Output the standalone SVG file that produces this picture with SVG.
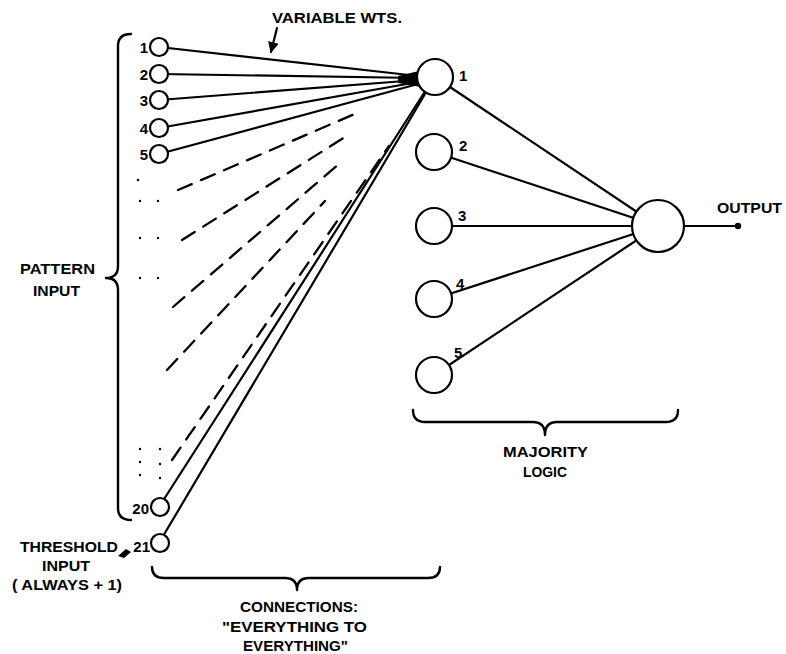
<svg xmlns="http://www.w3.org/2000/svg" width="786" height="654" viewBox="0 0 786 654">
<style>
.bg{fill:#fff}
.ln{stroke:#000;stroke-width:2.2;fill:none;stroke-linecap:round}
.dash{stroke:#000;stroke-width:2.3;fill:none;stroke-dasharray:15 10;stroke-linecap:round}
.brace{stroke:#000;stroke-width:2.4;fill:none;stroke-linecap:round;stroke-linejoin:round}
.nd{fill:#fff;stroke:#000;stroke-width:2.2}
.t{font-family:"Liberation Sans",Arial,sans-serif;font-weight:bold;font-size:15px;fill:#000}
.n{font-family:"Liberation Sans",Arial,sans-serif;font-weight:bold;font-size:15px;fill:#000;text-anchor:end}
.hn{font-family:"Liberation Sans",Arial,sans-serif;font-weight:bold;font-size:15px;fill:#000}
.dot{fill:#000}
</style>
<defs>
<marker id="ah" viewBox="0 0 10 10" refX="9" refY="5" markerWidth="5" markerHeight="5" orient="auto"><path d="M0,0 L10,5 L0,10 z" fill="#000"/></marker>
</defs>
<rect class="bg" width="786" height="654"/>

<g id="connectors">
  <line class="ln" x1="159" y1="47" x2="418" y2="76"/>
  <line class="ln" x1="159" y1="74" x2="418" y2="78"/>
  <line class="ln" x1="159" y1="100" x2="418" y2="80"/>
  <line class="ln" x1="159" y1="128" x2="418" y2="82"/>
  <line class="ln" x1="159" y1="154" x2="418" y2="84"/>
  <polygon points="398,76 419,71 421,87 398,83" fill="#000"/>
  <line class="dash" x1="178" y1="190" x2="357" y2="113"/>
  <line class="dash" x1="182" y1="240" x2="345" y2="137"/>
  <line class="dash" x1="173" y1="307" x2="340" y2="163"/>
  <line class="dash" x1="167" y1="370" x2="325" y2="201"/>
  <line class="dash" x1="172" y1="460" x2="389" y2="146"/>
  <line class="ln" x1="159" y1="507" x2="424" y2="93"/>
  <line class="ln" x1="159" y1="543" x2="425" y2="94"/>
  <line class="ln" x1="435" y1="77" x2="658" y2="226"/>
  <line class="ln" x1="434" y1="152" x2="658" y2="226"/>
  <line class="ln" x1="434" y1="226" x2="658" y2="226"/>
  <line class="ln" x1="434" y1="299" x2="658" y2="226"/>
  <line class="ln" x1="434" y1="375" x2="658" y2="226"/>
  <line class="ln" x1="684" y1="226" x2="737" y2="226"/>
  <circle class="dot" cx="738" cy="226" r="3.2"/>
  <line class="ln" x1="277" y1="28" x2="271" y2="52" marker-end="url(#ah)"/>
  <polygon points="118,556 126,549 131,552 124,558" fill="#000"/>
</g>

<g id="braces">
  <path class="brace" d="M131,34 Q118,34 118,46 L118,266 Q118,278 106,278 Q118,278 118,290 L118,508 Q118,520 131,520"/>
  <path class="brace" d="M152,567 Q152,578 164,578 L285,578 Q297,578 297,590 Q297,578 309,578 L428,578 Q440,578 440,567"/>
  <path class="brace" d="M413,410 Q413,422 425,422 L533,422 Q545,422 545,435 Q545,422 557,422 L666,422 Q678,422 678,410"/>
</g>

<g id="dots">
  <circle class="dot" cx="138" cy="180" r="1.2"/>
  <circle class="dot" cx="140" cy="201" r="1.2"/><circle class="dot" cx="158" cy="201" r="1.2"/>
  <circle class="dot" cx="140" cy="238" r="1.2"/><circle class="dot" cx="158" cy="238" r="1.2"/>
  <circle class="dot" cx="140" cy="278" r="1.2"/><circle class="dot" cx="158" cy="278" r="1.2"/>
  <circle class="dot" cx="140" cy="449" r="1.2"/><circle class="dot" cx="160" cy="449" r="1.2"/>
  <circle class="dot" cx="140" cy="462" r="1.2"/><circle class="dot" cx="160" cy="464" r="1.2"/>
  <circle class="dot" cx="140" cy="475" r="1.2"/><circle class="dot" cx="160" cy="478" r="1.2"/>
</g>

<g id="in1"><circle class="nd" cx="159" cy="47" r="9"/><text class="n" x="148" y="53">1</text></g>
<g id="in2"><circle class="nd" cx="159" cy="74" r="9"/><text class="n" x="148" y="80">2</text></g>
<g id="in3"><circle class="nd" cx="159" cy="100" r="9"/><text class="n" x="148" y="106">3</text></g>
<g id="in4"><circle class="nd" cx="159" cy="128" r="9"/><text class="n" x="148" y="134">4</text></g>
<g id="in5"><circle class="nd" cx="159" cy="154" r="9"/><text class="n" x="148" y="160">5</text></g>
<g id="in20"><circle class="nd" cx="160" cy="507" r="9"/><text class="n" x="149" y="514">20</text></g>
<g id="in21"><circle class="nd" cx="160" cy="543" r="9"/><text class="n" x="150" y="552">21</text></g>

<g id="h1"><circle class="nd" cx="435" cy="77" r="18"/><text class="hn" x="459" y="81">1</text></g>
<g id="h2"><circle class="nd" cx="434" cy="152" r="18"/><text class="hn" x="459" y="151">2</text></g>
<g id="h3"><circle class="nd" cx="434" cy="226" r="18"/><text class="hn" x="458" y="221">3</text></g>
<g id="h4"><circle class="nd" cx="434" cy="299" r="18"/><text class="hn" x="456" y="289">4</text></g>
<g id="h5"><circle class="nd" cx="434" cy="375" r="18"/><text class="hn" x="454" y="358">5</text></g>
<g id="out"><circle class="nd" cx="658" cy="226" r="26"/></g>

<g id="labels">
  <text class="t" x="272" y="23" textLength="130" lengthAdjust="spacingAndGlyphs">VARIABLE WTS.</text>
  <text class="t" x="20" y="274" textLength="75" lengthAdjust="spacingAndGlyphs">PATTERN</text>
  <text class="t" x="33" y="296" textLength="47" lengthAdjust="spacingAndGlyphs">INPUT</text>
  <text class="t" x="20" y="552" textLength="98" lengthAdjust="spacingAndGlyphs">THRESHOLD</text>
  <text class="t" x="42" y="571" textLength="48" lengthAdjust="spacingAndGlyphs">INPUT</text>
  <text class="t" x="12" y="590" textLength="110" lengthAdjust="spacingAndGlyphs">( ALWAYS + 1)</text>
  <text class="t" x="240" y="612" textLength="118" lengthAdjust="spacingAndGlyphs">CONNECTIONS:</text>
  <text class="t" x="222" y="632" textLength="145" lengthAdjust="spacingAndGlyphs">"EVERYTHING  TO</text>
  <text class="t" x="243" y="651" textLength="105" lengthAdjust="spacingAndGlyphs">EVERYTHING"</text>
  <text class="t" x="717" y="213" textLength="65" lengthAdjust="spacingAndGlyphs">OUTPUT</text>
  <text class="t" x="503" y="457" textLength="85" lengthAdjust="spacingAndGlyphs">MAJORITY</text>
  <text class="t" x="523" y="477" textLength="44" lengthAdjust="spacingAndGlyphs">LOGIC</text>
</g>
</svg>
